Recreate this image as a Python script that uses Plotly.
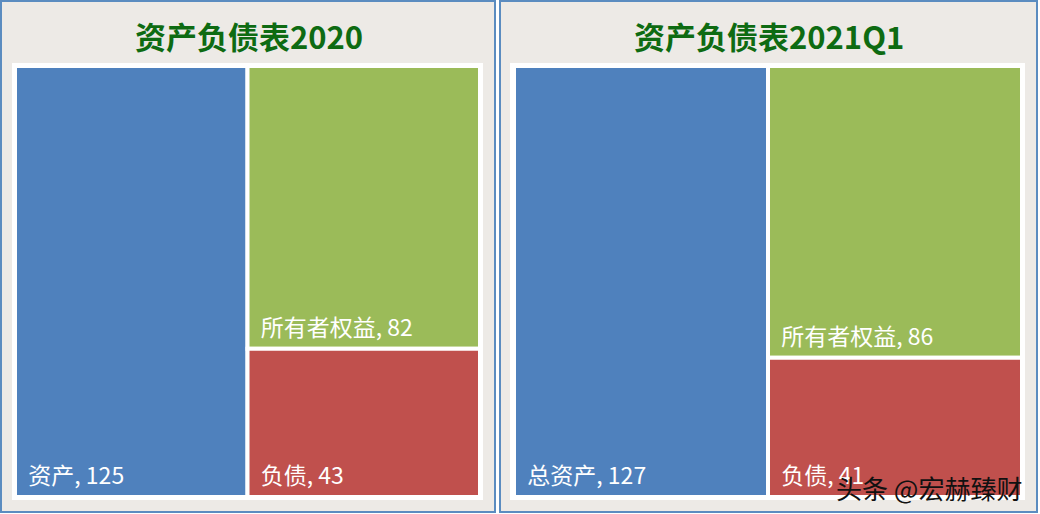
import plotly.graph_objects as go

# 资产负债表 数据
labels_2020 = ["资产", "所有者权益", "负债"]
values_2020 = [125, 82, 43]
labels_2021 = ["总资产", "所有者权益", "负债"]
values_2021 = [127, 86, 41]
couleurs = ["#4F81BD", "#9BBB59", "#C0504D"]

titres = ["资产负债表2020", "资产负债表2021Q1"]

fig = go.Figure()

def ajoute_treemap(labels, values, x0, x1):
    fig.add_trace(go.Treemap(
        labels=labels,
        parents=[""] * len(labels),
        values=values,
        texttemplate="<span style='font-size:23px'>\u00a0\u00a0%{label}, %{value}</span><br>\u00a0",
        textposition="bottom left",
        textfont=dict(size=6, color="white", family="Noto Sans CJK SC"),
        marker=dict(colors=couleurs, line=dict(color="white", width=4),
                    pad=dict(t=0, l=0, r=0, b=0)),
        tiling=dict(packing="squarify", pad=0),
        pathbar=dict(visible=False),
        sort=True,
        hoverinfo="label+value",
        domain=dict(x=[x0, x1], y=[1 - 497 / 514, 1 - 66 / 514]),
    ))

ajoute_treemap(labels_2020, values_2020, 15 / 1040, 480 / 1040)
ajoute_treemap(labels_2021, values_2021, 514 / 1040, 1022 / 1040)

# panneaux gris avec bordure bleue
formes = []
for x0, x1 in [(1, 495), (500, 1037)]:
    formes.append(dict(type="rect", xref="paper", yref="paper", layer="below",
                       x0=x0 / 1040, x1=x1 / 1040, y0=2 / 514, y1=1 - 1 / 514,
                       fillcolor="#EDEAE6", line=dict(color="#5B8CC0", width=2)))
for x0, x1 in [(12, 483), (510, 1025)]:
    formes.append(dict(type="rect", xref="paper", yref="paper", layer="below",
                       x0=x0 / 1040, x1=x1 / 1040, y0=1 - 500 / 514, y1=1 - 63 / 514,
                       fillcolor="white", line=dict(width=0)))

annotations = []
for titre, xc in zip(titres, [249 / 1040, 769 / 1040]):
    annotations.append(dict(text="<b>" + titre + "</b>", x=xc, y=1 - 36 / 514,
                            xref="paper", yref="paper", showarrow=False,
                            xanchor="center", yanchor="middle",
                            font=dict(size=31, color="#0E6B12", family="Noto Sans CJK SC")))

# filigrane
annotations.append(dict(text="头条 @宏赫臻财", x=1024 / 1040, y=1 - 487 / 514,
                        xref="paper", yref="paper", showarrow=False,
                        xanchor="right", yanchor="middle",
                        font=dict(size=26, color="#111111", family="Noto Sans CJK SC")))

fig.update_layout(
    width=1040, height=514,
    margin=dict(l=0, r=0, t=0, b=0),
    paper_bgcolor="white",
    shapes=formes,
    annotations=annotations,
    showlegend=False,
)

fig.write_html("out.html", config={"displayModeBar": False},
               post_script="document.body.style.margin='0';")
